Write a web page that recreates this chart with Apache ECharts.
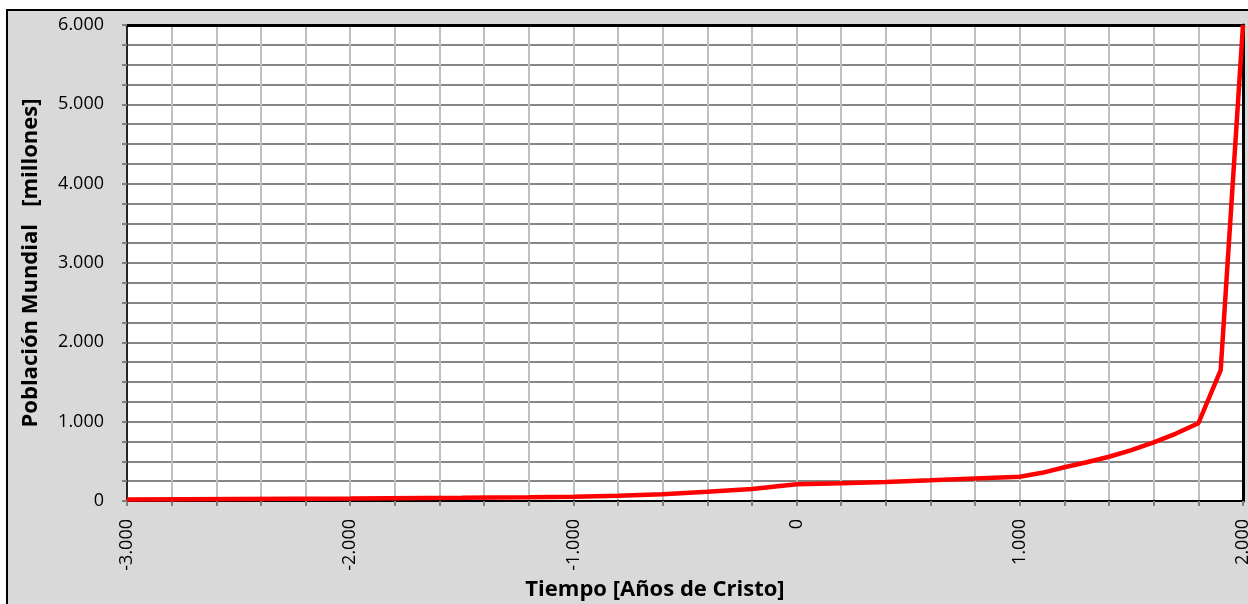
<!DOCTYPE html>
<html>
<head>
<meta charset="utf-8">
<title>Población Mundial</title>
<script src="https://cdn.jsdelivr.net/npm/echarts@6/dist/echarts.min.js"></script>
<style>
    html, body {
        margin: 0;
        padding: 0;
        background: #ffffff;
        overflow: hidden;
    }
    #chart {
        width: 1248px;
        height: 604px;
    }
</style>
</head>
<body>
<div id="chart"></div>
<script>
// años (negativo = antes de Cristo)
const years = [-3000, -2500, -2000, -1500, -1200, -1000, -800, -600, -400, -200, 0,
    200, 400, 600, 800, 1000, 1100, 1200, 1300, 1400, 1500, 1600, 1700, 1800, 1900, 2000];
// población mundial en millones
const population = [20, 26, 32, 40, 47, 54, 66, 86, 116, 152, 210,
    224, 240, 262, 285, 306, 355, 425, 488, 558, 642, 740, 850, 980, 1650, 6000];

const xTickLabels = [-3000, -2000, -1000, 0, 1000, 2000];
const yTickLabels = [0, 1000, 2000, 3000, 4000, 5000, 6000];

// 6000 -> "6.000"
function fmt(v) {
    let s = String(Math.abs(v)).replace(/\B(?=(\d{3})+(?!\d))/g, '.');
    return v < 0 ? '-' + s : s;
}

let myChart = echarts.init(document.getElementById('chart'), null, {renderer: 'canvas'});

const font = 'Open Sans';

myChart.setOption({
    backgroundColor: '#ffffff',
    animation: false,
    graphic: [{
        type: 'rect',
        z: -10,
        shape: {x: 7, y: 10, width: 1260, height: 620},
        style: {fill: '#D9D9D9', stroke: '#000000', lineWidth: 2}
    }],
    grid: {
        left: 127,
        top: 25,
        right: 5,
        bottom: 103,
        show: true,
        backgroundColor: '#ffffff',
        borderWidth: 0,
        containLabel: false,
        outerBoundsMode: 'none'
    },
    xAxis: [{
        type: 'value',
        min: -3000,
        max: 2000,
        interval: 200,
        name: 'Tiempo [Años de Cristo]',
        nameLocation: 'middle',
        nameGap: 77,
        nameTextStyle: {
            fontFamily: font,
            fontSize: 22,
            fontWeight: 'bold',
            color: '#000',
            padding: [0, 60, 0, 0]
        },
        axisLine: {onZero: false, lineStyle: {color: '#000', width: 2}},
        axisTick: {length: 5, lineStyle: {color: '#7F7F7F', width: 2}},
        axisLabel: {
            rotate: 90,
            margin: 18,
            fontFamily: font,
            fontSize: 18,
            color: '#000',
            formatter: v => xTickLabels.indexOf(v) >= 0 ? fmt(v) : ''
        },
        splitLine: {lineStyle: {color: '#BFBFBF', width: 2}}
    }, {
        // borde superior
        type: 'value',
        position: 'top',
        min: -3000,
        max: 2000,
        axisLine: {show: true, onZero: false, lineStyle: {color: '#000', width: 3}},
        axisTick: {show: false},
        axisLabel: {show: false},
        splitLine: {show: false}
    }],
    yAxis: [{
        type: 'value',
        min: 0,
        max: 6000,
        interval: 250,
        name: 'Población Mundial   [millones]',
        nameLocation: 'middle',
        nameGap: 85,
        nameTextStyle: {
            fontFamily: font,
            fontSize: 22,
            fontWeight: 'bold',
            color: '#000'
        },
        axisLine: {show: true, onZero: false, lineStyle: {color: '#262626', width: 2}},
        axisTick: {show: true, length: 5, lineStyle: {color: '#7F7F7F', width: 2}},
        axisLabel: {
            margin: 23,
            fontFamily: font,
            fontSize: 18,
            color: '#000',
            formatter: v => yTickLabels.indexOf(v) >= 0 ? fmt(v) : ''
        },
        splitLine: {lineStyle: {color: '#868686', width: 2}}
    }, {
        // borde derecho
        type: 'value',
        position: 'right',
        min: 0,
        max: 6000,
        axisLine: {show: true, onZero: false, lineStyle: {color: '#000', width: 3}},
        axisTick: {show: false},
        axisLabel: {show: false},
        splitLine: {show: false}
    }],
    series: [{
        type: 'line',
        data: years.map((y, i) => [y, population[i]]),
        showSymbol: false,
        smooth: false,
        clip: false,
        lineStyle: {color: '#FF0000', width: 4.5},
        z: 5
    }]
});
</script>
</body>
</html>
